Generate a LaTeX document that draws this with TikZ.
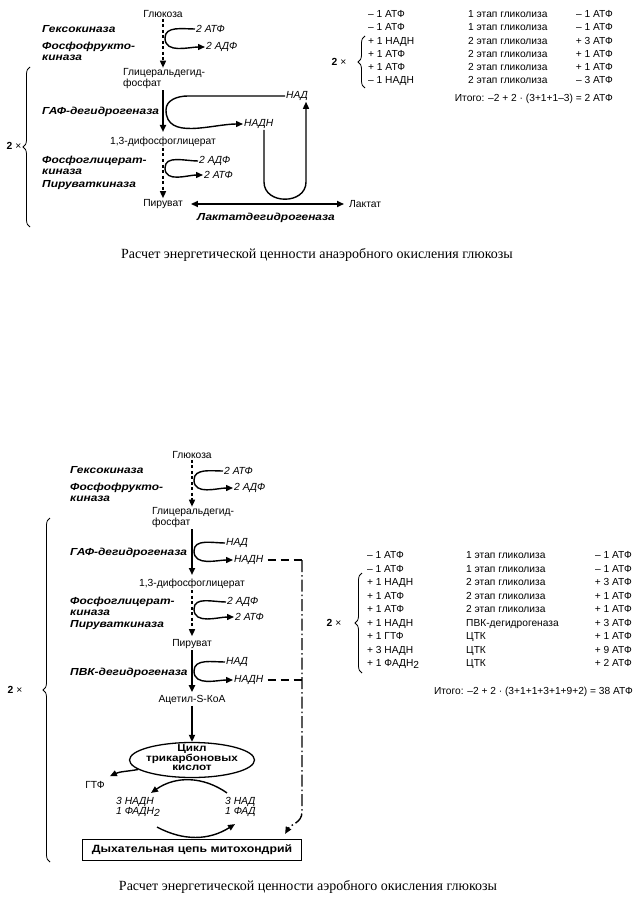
\documentclass[tikz,border=0pt]{standalone}
\usepackage{fontspec}
\setmainfont{Liberation Serif}
\setsansfont{Liberation Sans}
\newfontfamily\enzfont[FakeStretch=1.17]{Liberation Sans}
\usetikzlibrary{arrows.meta,shapes.geometric,decorations.pathreplacing}
\newcommand{\lowtwo}{\raisebox{-0.35ex}{2}}

\tikzset{
	lbl/.style={font=\sffamily\fontsize{10.3}{11}\selectfont, inner sep=1pt},
	cof/.style={font=\sffamily\itshape\fontsize{10.3}{10.5}\selectfont, inner sep=1pt, anchor=west, align=left},
	enz/.style={font=\enzfont\bfseries\itshape\fontsize{10.2}{10.8}\selectfont, inner sep=0pt, anchor=west, align=left},
	tab/.style={font=\sffamily\fontsize{10.2}{11}\selectfont, inner sep=0pt, anchor=base west},
	captxt/.style={font=\rmfamily\fontsize{14}{16}\selectfont},
	arr/.style={line width=1.8pt, -{Triangle[length=7pt,width=6pt]}},
	arrboth/.style={line width=1.6pt, {Triangle[length=7pt,width=6pt]}-{Triangle[length=7pt,width=6pt]}},
	darr/.style={line width=1.5pt, dash pattern=on 3pt off 2.5pt, -{Triangle[length=7pt,width=6pt]}},
	carr/.style={line width=1.4pt, -{Triangle[length=7pt,width=6pt]}},
	hdash/.style={line width=1.4pt, dash pattern=on 8pt off 5pt},
	vdash/.style={line width=1.4pt, dash pattern=on 12pt off 3pt on 1.5pt off 3pt, -{Triangle[length=7pt,width=6pt]}},
	brc/.style={decorate, decoration={brace, amplitude=7pt}, line width=0.8pt},
}

\begin{document}
\begin{tikzpicture}[x=1pt,y=-1pt]
	\useasboundingbox (0,0) rectangle (643,904);

	% anaerobic
	\node[lbl] (glc1) at (163,14) {Глюкоза};
	\node[lbl, anchor=west, align=left] (gap1) at (122,79) {Глицеральдегид-\\фосфат};
	\node[lbl] (dpg1) at (163,142) {1,3-дифосфоглицерат};
	\node[lbl] (pyr1) at (163,204) {Пируват};
	\node[lbl, anchor=west] (lac1) at (348,204) {Лактат};

	\node[enz] (hex1) at (42,29) {Гексокиназа};
	\node[enz] (pfk1) at (42,51) {Фосфофрукто-\\киназа};
	\node[enz] (gapdh1) at (42,112) {ГАФ-дегидрогеназа};
	\node[enz] (pgk1) at (42,165) {Фосфоглицерат-\\киназа};
	\node[enz] (pk1) at (42,185) {Пируваткиназа};
	\node[enz, anchor=center] (ldh1) at (266,218) {Лактатдегидрогеназа};

	\node[cof] (atf1) at (195,29) {2 АТФ};
	\node[cof] (adf1) at (205,47) {2 АДФ};
	\node[cof] (nad1) at (285,96) {НАД};
	\node[cof] (nadh1) at (243,124) {НАДН};
	\node[cof] (adf2) at (198,161) {2 АДФ};
	\node[cof] (atf2) at (203,175) {2 АТФ};

	\draw[darr] (glc1) -- (glc1 |- gap1.north);
	\draw[arr] (glc1 |- gap1.south) -- ([yshift=4pt]dpg1.north);
	\draw[darr] (dpg1) -- (pyr1);
	\draw[arrboth] ([xshift=7pt]pyr1.east) -- ([xshift=-4pt]lac1.west);

	\coordinate (k1) at (165,38);
	\coordinate (k2) at (166,110);
	\coordinate (k3) at (165,168);
	\draw[carr] (atf1.west) to[out=180,in=90] (k1) to[out=-90,in=180] (adf1.west);
	\draw[carr] (nad1.west) -- ++(-97,0) to[out=180,in=90] (k2) to[out=-90,in=180] (nadh1.west);
	\draw[carr] (adf2.west) to[out=180,in=90] (k3) to[out=-90,in=180] (atf2.west);

	\coordinate (u1) at (264,182);
	\coordinate (u2) at (306,182);
	\draw[carr] (u1 |- nadh1.south) -- (u1) to[out=-90,in=-90,looseness=1.4] (u2) -- (u2 |- nad1.south);

	\draw[brc] (30,227) -- (30,67);
	\node[lbl] (two1) at (14,146) {\textbf{2} ×};

	\foreach \a/\b/\c [count=\i from 0] in {{– 1 АТФ}/{1 этап гликолиза}/{– 1 АТФ},
		{– 1 АТФ}/{1 этап гликолиза}/{– 1 АТФ}, {+ 1 НАДН}/{2 этап гликолиза}/{+ 3 АТФ},
		{+ 1 АТФ}/{2 этап гликолиза}/{+ 1 АТФ}, {+ 1 АТФ}/{2 этап гликолиза}/{+ 1 АТФ},
		{– 1 НАДН}/{2 этап гликолиза}/{– 3 АТФ}} {
		\node[tab] (ta\i) at (368,{17.5+13.3*\i}) {\a};
		\node[tab] (tb\i) at (468,{17.5+13.3*\i}) {\b};
		\node[tab, anchor=base east] (tc\i) at (613,{17.5+13.3*\i}) {\c};
	}
	\draw[brc] (365,88) -- (365,36);
	\node[lbl] (two2) at (339,62) {\textbf{2} ×};
	\node[tab, anchor=base east] (sum1) at (613,102) {Итого: –2 + 2 · (3+1+1–3) = 2 АТФ};

	\node[captxt] (cap1) at (317,255) {Расчет энергетической ценности анаэробного окисления глюкозы};

	% aerobic
	\node[lbl] (glc2) at (192,455) {Глюкоза};
	\node[lbl, anchor=west, align=left] (gap2) at (151,518) {Глицеральдегид-\\фосфат};
	\node[lbl] (dpg2) at (192,584) {1,3-дифосфоглицерат};
	\node[lbl] (pyr2) at (192,644) {Пируват};
	\node[lbl] (acc2) at (192,700) {Ацетил-S-КоА};
	\node[ellipse, draw, line width=1.3pt, minimum width=125pt, minimum height=35pt] (tca) at (192,760) {};
	\node[font=\enzfont\bfseries\fontsize{10}{9.5}\selectfont, align=center, inner sep=0pt] (tcatxt) at (192,758) {Цикл\\трикарбоновых\\кислот};
	\node[lbl] (gtf) at (95,785) {ГТФ};
	\node[cof] (nadh3) at (115,807) {3 НАДН\\1 ФАДН\lowtwo};
	\node[cof] (nad3) at (224,807) {3 НАД\\1 ФАД};
	\node[draw, line width=1.2pt, minimum width=219pt, minimum height=21pt, font=\enzfont\bfseries\fontsize{10.5}{10}\selectfont] (resp) at (192,850) {Дыхательная цепь митохондрий};

	\node[enz] (hex2) at (70,470) {Гексокиназа};
	\node[enz] (pfk2) at (70,492) {Фосфофрукто-\\киназа};
	\node[enz] (gapdh2) at (70,553) {ГАФ-дегидрогеназа};
	\node[enz] (pgk2) at (70,606) {Фосфоглицерат-\\киназа};
	\node[enz] (pk2) at (70,625) {Пируваткиназа};
	\node[enz] (pdh2) at (70,673) {ПВК-дегидрогеназа};

	\node[cof] (atf3) at (223,471) {2 АТФ};
	\node[cof] (adf3) at (233,488) {2 АДФ};
	\node[cof] (nad4) at (225,543) {НАД};
	\node[cof] (nadh4) at (233,560) {НАДН};
	\node[cof] (adf4) at (226,602) {2 АДФ};
	\node[cof] (atf4) at (234,617) {2 АТФ};
	\node[cof] (nad5) at (225,662) {НАД};
	\node[cof] (nadh5) at (233,680) {НАДН};

	\draw[darr] (glc2) -- (glc2 |- gap2.north);
	\draw[arr] (glc2 |- gap2.south) -- ([yshift=3pt]dpg2.north);
	\draw[darr] (dpg2) -- ([yshift=2pt]pyr2.north);
	\draw[arr] (pyr2) -- ([yshift=2pt]acc2.north);
	\draw[arr] (acc2) -- (tca.north);

	\coordinate (k4) at (194,480);
	\coordinate (k5) at (194,551);
	\coordinate (k6) at (194,609);
	\coordinate (k7) at (194,671);
	\draw[carr] (atf3.west) to[out=180,in=90] (k4) to[out=-90,in=180] (adf3.west);
	\draw[carr] (nad4.west) to[out=180,in=90] (k5) to[out=-90,in=180] (nadh4.west);
	\draw[carr] (adf4.west) to[out=180,in=90] (k6) to[out=-90,in=180] (atf4.west);
	\draw[carr] (nad5.west) to[out=180,in=90] (k7) to[out=-90,in=180] (nadh5.west);

	\coordinate (d1) at (302,560);
	\coordinate (d2) at (302,812);
	\draw[hdash] ([xshift=3pt]nadh4.east) -- (nadh4.east -| d1);
	\draw[hdash] ([xshift=3pt]nadh5.east) -- (nadh5.east -| d1);
	\draw[vdash] (nadh4.east -| d1) -- (d2) to[out=-90,in=60] ([xshift=-17pt,yshift=5pt]resp.north east);

	\draw[carr] (tca.190) to[out=190,in=25] ([xshift=4pt,yshift=4pt]gtf.north east);
	\draw[carr] ([xshift=3pt,yshift=3pt]nad3.north west) to[bend right=35] ([xshift=-10pt,yshift=3pt]nadh3.north east);
	\draw[carr] ([xshift=-4pt,yshift=-9pt]nadh3.south east) to[bend right=30] ([xshift=11pt,yshift=-6pt]nad3.south west);

	\draw[brc] (50,862) -- (50,518);
	\node[lbl] (two3) at (15,690) {\textbf{2} ×};

	\foreach \a/\b/\c [count=\i from 0] in {{– 1 АТФ}/{1 этап гликолиза}/{– 1 АТФ},
		{– 1 АТФ}/{1 этап гликолиза}/{– 1 АТФ}, {+ 1 НАДН}/{2 этап гликолиза}/{+ 3 АТФ},
		{+ 1 АТФ}/{2 этап гликолиза}/{+ 1 АТФ}, {+ 1 АТФ}/{2 этап гликолиза}/{+ 1 АТФ},
		{+ 1 НАДН}/{ПВК-дегидрогеназа}/{+ 3 АТФ}, {+ 1 ГТФ}/{ЦТК}/{+ 1 АТФ},
		{+ 3 НАДН}/{ЦТК}/{+ 9 АТФ}, {+ 1 ФАДН\lowtwo}/{ЦТК}/{+ 2 АТФ}} {
		\node[tab] (sa\i) at (367,{558.5+13.5*\i}) {\a};
		\node[tab] (sb\i) at (466,{558.5+13.5*\i}) {\b};
		\node[tab, anchor=base east] (sc\i) at (632,{558.5+13.5*\i}) {\c};
	}
	\draw[brc] (362,673) -- (362,573);
	\node[lbl] (two4) at (334,623) {\textbf{2} ×};
	\node[tab, anchor=base east] (sum2) at (633,694.5) {Итого: –2 + 2 · (3+1+1+3+1+9+2) = 38 АТФ};

	\node[captxt] (cap2) at (308,887) {Расчет энергетической ценности аэробного окисления глюкозы};
\end{tikzpicture}
\end{document}
